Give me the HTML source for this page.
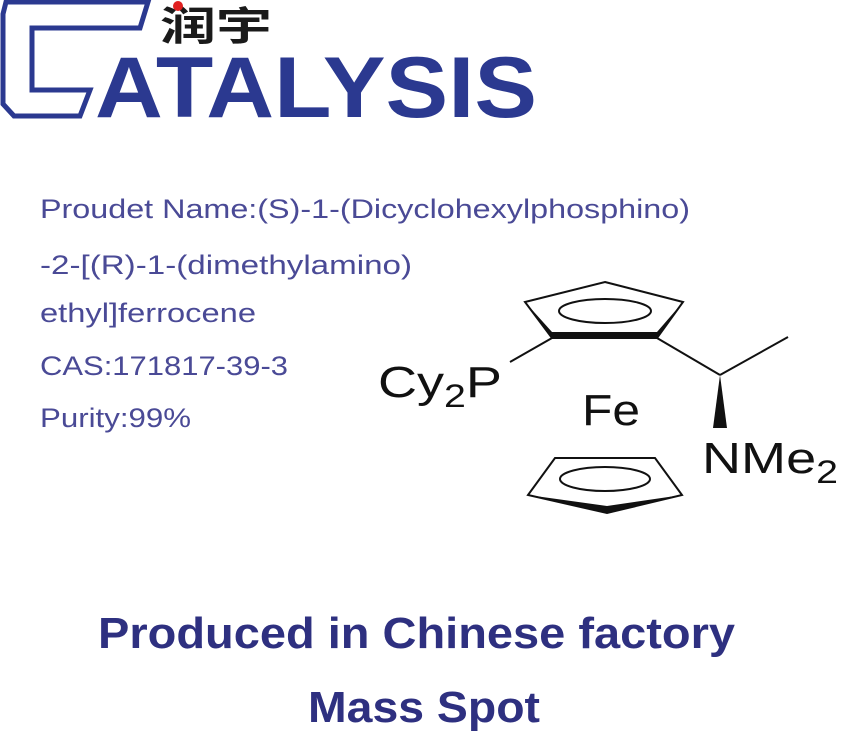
<!DOCTYPE html>
<html><head><meta charset="utf-8"><style>
html,body{margin:0;padding:0;background:#fff;width:850px;height:750px;overflow:hidden}
</style></head><body>
<svg width="850" height="750" viewBox="0 0 850 750" xmlns="http://www.w3.org/2000/svg">
<!-- logo -->
<polygon points="6,2 148,2 140,28 32,28 32,90 90,90 80,116 14,116 3,104 3,14" fill="none" stroke="#2b3990" stroke-width="5" stroke-linejoin="miter"/>
<text x="95" y="117" font-family="Liberation Sans, sans-serif" font-weight="bold" font-size="86" fill="#2b3990" textLength="442" lengthAdjust="spacingAndGlyphs">ATALYSIS</text>
<text x="160" y="40" font-family="Liberation Sans, 'Noto Sans CJK SC', sans-serif" font-weight="bold" font-size="40" fill="#1a1a1a" textLength="112" lengthAdjust="spacingAndGlyphs">润宇</text>
<circle cx="178" cy="6" r="5" fill="#e02020"/>
<!-- info text -->
<g font-family="Liberation Sans, sans-serif" font-size="27" fill="#4a4a96">
<text x="40" y="218" textLength="650" lengthAdjust="spacingAndGlyphs">Proudet Name:(S)-1-(Dicyclohexylphosphino)</text>
<text x="40" y="274" textLength="372" lengthAdjust="spacingAndGlyphs">-2-[(R)-1-(dimethylamino)</text>
<text x="40" y="322" textLength="216" lengthAdjust="spacingAndGlyphs">ethyl]ferrocene</text>
<text x="40" y="375" textLength="248" lengthAdjust="spacingAndGlyphs">CAS:171817-39-3</text>
<text x="40" y="427" textLength="151" lengthAdjust="spacingAndGlyphs">Purity:99%</text>
</g>
<!-- ferrocene structure -->
<g stroke="#111" fill="none" stroke-width="2">
<polygon points="605,282 683,302 657,338 552,338 525,302"/>
<ellipse cx="605" cy="311" rx="46" ry="12"/>
<line x1="552" y1="338" x2="510" y2="362"/>
<line x1="657" y1="338" x2="720" y2="375"/>
<line x1="720" y1="375" x2="788" y2="337"/>
<polygon points="555,458 655,458 682,495 607,513 528,495"/>
<ellipse cx="605" cy="479" rx="45" ry="12"/>
</g>
<g fill="#111">
<polygon points="525,302 552,338 657,338 683,302 657,332 552,332"/>
<polygon points="528,495 607,513 682,495 607,506"/>
<polygon points="720,375 713,428 727,428"/>
</g>
<g font-family="Liberation Sans, sans-serif" font-size="44" fill="#111">
<text x="378" y="397" textLength="124" lengthAdjust="spacingAndGlyphs">Cy<tspan font-size="32" dy="10">2</tspan><tspan dy="-10">P</tspan></text>
<text x="582" y="425" textLength="58" lengthAdjust="spacingAndGlyphs">Fe</text>
<text x="702" y="473" textLength="136" lengthAdjust="spacingAndGlyphs">NMe<tspan font-size="32" dy="10">2</tspan></text>
</g>
<!-- bottom text -->
<g font-family="Liberation Sans, sans-serif" font-weight="bold" font-size="44" fill="#2e3080">
<text x="98" y="648" textLength="637" lengthAdjust="spacingAndGlyphs">Produced in Chinese factory</text>
<text x="308" y="722" textLength="232" lengthAdjust="spacingAndGlyphs">Mass Spot</text>
</g>
</svg>
</body></html>
